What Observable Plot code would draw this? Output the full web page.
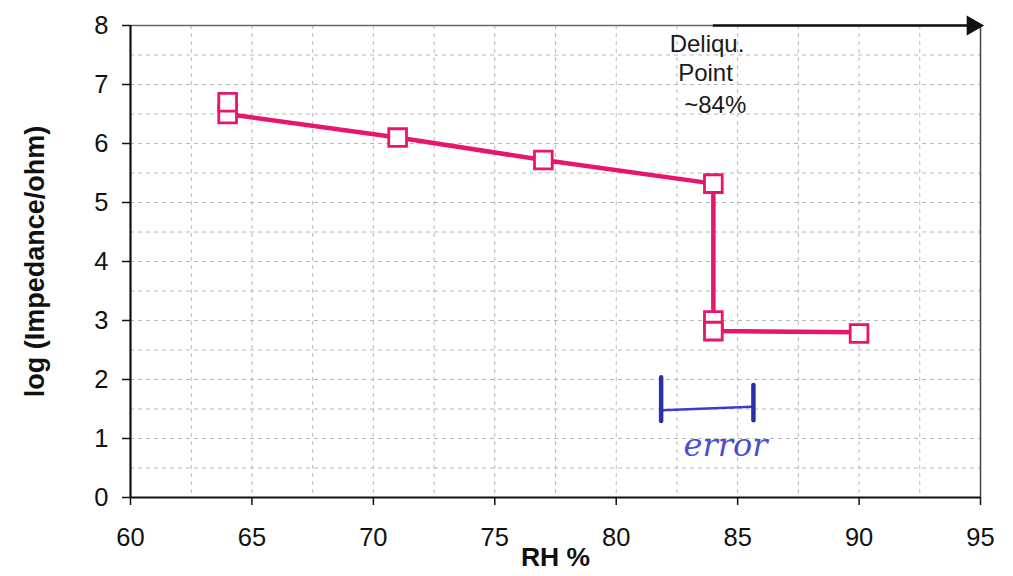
<!DOCTYPE html>
<html>
<head>
<meta charset="utf-8">
<script src="https://cdn.jsdelivr.net/npm/d3@7"></script>
<script src="https://cdn.jsdelivr.net/npm/@observablehq/plot@0.6"></script>
<style>
  html, body { margin: 0; padding: 0; background: #fff; }
  #chart svg { display: block; }
  #chart g[aria-label='x-axis tick label'] text,
  #chart g[aria-label='y-axis tick label'] text { font-size: 25.5px !important; }
  #chart g[aria-label='x-axis label'] text { font-size: 26.5px !important; font-weight: bold; }
  #chart g[aria-label='y-axis label'] text { font-size: 27px !important; font-weight: bold; }
</style>
</head>
<body>
<div id="chart"></div>
<script>
// Data
const lineRH = [64, 71, 77, 84, 84, 90];
const lineLogZ = [6.5, 6.1, 5.72, 5.32, 2.82, 2.8];
const markerRH = [64, 64, 71, 77, 84, 84, 84, 90];
const markerLogZ = [6.5, 6.7, 6.1, 5.72, 5.32, 3.0, 2.82, 2.78];
const xTicks = [60, 65, 70, 75, 80, 85, 90, 95];
const yTicks = [0, 1, 2, 3, 4, 5, 6, 7, 8];
const xGrid = [62.5, 65, 67.5, 70, 72.5, 75, 77.5, 80, 82.5, 85, 87.5, 90, 92.5];
const yGrid = [0.5, 1, 1.5, 2, 2.5, 3, 3.5, 4, 4.5, 5, 5.5, 6, 6.5, 7, 7.5];
const noteLines = ["Deliqu.", "Point", "~84%"];
const noteX = [82.2, 82.55, 82.8];
const noteY = [7.68, 7.19, 6.64];
const arrowFrom = 84, arrowTo = 95, arrowY = 8;
// hand-drawn error annotation
const errSegment = [{x1: 81.9, y1: 1.48, x2: 85.6, y2: 1.54}];
const errBars = [{x: 81.85, y1: 2.03, y2: 1.29}, {x: 85.65, y1: 1.9, y2: 1.3}];
const errLabel = [{t: "error", x: 84.5, y: 0.88}];

const pink = "#e6166f";
const lineData = lineRH.map((x, i) => ({x, y: lineLogZ[i]}));
const markerData = markerRH.map((x, i) => ({x, y: markerLogZ[i]}));
const notes = noteLines.map((t, i) => ({t, x: noteX[i], y: noteY[i]}));

const chart = Plot.plot({
  width: 1013,
  height: 576,
  marginLeft: 130,
  marginRight: 33,
  marginTop: 25,
  marginBottom: 79,
  style: {fontFamily: "'Liberation Sans', Arial, sans-serif", fontSize: "23px", background: "#fff"},
  x: {domain: [60, 95]},
  y: {domain: [0, 8]},
  marks: [
    Plot.ruleX(xGrid, {stroke: "#b8b8b8", strokeDasharray: "4,4", strokeWidth: 1}),
    Plot.ruleY(yGrid, {stroke: "#b8b8b8", strokeDasharray: "4,4", strokeWidth: 1}),
    Plot.ruleY([8], {stroke: "#666", strokeWidth: 1.5}),
    Plot.ruleX([95], {stroke: "#444", strokeWidth: 1.5}),
    Plot.ruleX([60], {stroke: "#111", strokeWidth: 2.2}),
    Plot.ruleY([0], {stroke: "#111", strokeWidth: 2.2}),
    Plot.axisX({ticks: xTicks, tickSize: 8, tickPadding: 22, stroke: "#111", fill: "#111",
      strokeWidth: 1.5, label: "RH %", labelAnchor: "center", labelArrow: "none", labelOffset: 68}),
    Plot.axisY({ticks: yTicks, tickSize: 8, tickPadding: 14, stroke: "#111", fill: "#111",
      strokeWidth: 1.5, label: "log (Impedance/ohm)", labelAnchor: "center", labelArrow: "none", labelOffset: 106}),
    Plot.line(lineData, {x: "x", y: "y", stroke: pink, strokeWidth: 4.5}),
    Plot.dot(markerData, {x: "x", y: "y", symbol: "square", r: 10, fill: "white", stroke: pink, strokeWidth: 2.8}),
    Plot.ruleY([arrowY], {x1: arrowFrom, x2: arrowTo, stroke: "#111", strokeWidth: 2.5}),
    Plot.dot([arrowTo], {x: d => d, y: arrowY, symbol: "triangle", r: 7.5, fill: "#111", rotate: 90, dx: -8}),
    Plot.text(notes, {x: "x", y: "y", text: "t", textAnchor: "start", fontSize: 24, fill: "#1a1a1a"}),
    Plot.link(errSegment, {x1: "x1", y1: "y1", x2: "x2", y2: "y2", stroke: "#3a3fbf", strokeWidth: 2.5}),
    Plot.ruleX(errBars, {x: "x", y1: "y1", y2: "y2", stroke: "#2b2fa8", strokeWidth: 4.5, strokeLinecap: "round"}),
    Plot.text(errLabel, {x: "x", y: "y", text: "t", fontSize: 32, fontStyle: "italic", fill: "#4a4fd0", fontFamily: "'DejaVu Serif', serif"})
  ]
});

document.getElementById("chart").appendChild(chart);
</script>
</body>
</html>
